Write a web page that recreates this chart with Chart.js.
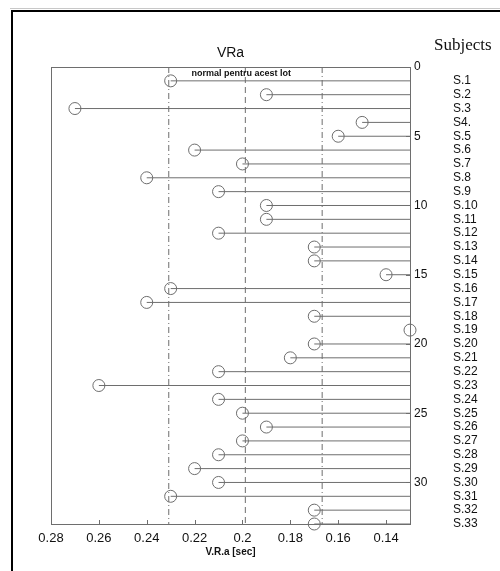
<!DOCTYPE html>
<html>
<head>
<meta charset="utf-8">
<script src="https://cdn.jsdelivr.net/npm/chart.js@4.4.1/dist/chart.umd.min.js"></script>
<style>
  html, body { margin: 0; padding: 0; background: #fff; }
</style>
</head>
<body>
<canvas id="c" width="500" height="571"></canvas>
<script>
// Subjects and their VRa values (seconds)
const subjects = ['S.1','S.2','S.3','S4.','S.5','S.6','S.7','S.8','S.9','S.10','S.11',
  'S.12','S.13','S.14','S.15','S.16','S.17','S.18','S.19','S.20','S.21','S.22',
  'S.23','S.24','S.25','S.26','S.27','S.28','S.29','S.30','S.31','S.32','S.33'];
const vra = [0.23, 0.19, 0.27, 0.15, 0.16, 0.22, 0.20, 0.24, 0.21, 0.19, 0.19,
  0.21, 0.17, 0.17, 0.14, 0.23, 0.24, 0.17, 0.13, 0.17, 0.18, 0.21,
  0.26, 0.21, 0.20, 0.19, 0.20, 0.21, 0.22, 0.21, 0.23, 0.17, 0.17];
// Normal range for this group: lower limit, mean, upper limit
const normalLimits = [0.2308, 0.1988, 0.1667];
const normalDash = [[6, 3, 1, 3], [6, 4], [6, 3, 1, 3]];
// Axis ticks
const xTicks = [0.28, 0.26, 0.24, 0.22, 0.2, 0.18, 0.16, 0.14];
const xTickLabels = ['0.28', '0.26', '0.24', '0.22', '0.2', '0.18', '0.16', '0.14'];
const yTicks = [0, 5, 10, 15, 20, 25, 30];
const X_MIN = 0.13, X_MAX = 0.28, Y_MIN = 0, Y_MAX = 33;

const GRAY = '#6e6e6e';

const datasets = [];
// open circle markers
datasets.push({
  type: 'scatter',
  data: vra.map((v, i) => ({ x: v, y: i + 1 })),
  pointStyle: 'circle',
  pointRadius: 6,
  pointHoverRadius: 6,
  pointBorderWidth: 1,
  pointBorderColor: GRAY,
  pointBackgroundColor: 'rgba(0,0,0,0)',
  showLine: false,
  clip: false
});
// stems from the baseline to each value
vra.forEach((v, i) => {
  datasets.push({
    type: 'line',
    data: [{ x: X_MIN, y: i + 1 }, { x: v, y: i + 1 }],
    borderColor: GRAY,
    borderWidth: 1,
    pointRadius: 0,
    fill: false
  });
});
// normal range lines
normalLimits.forEach((v, k) => {
  datasets.push({
    type: 'line',
    data: [{ x: v, y: Y_MIN }, { x: v, y: Y_MAX }],
    borderColor: GRAY,
    borderWidth: 1,
    borderDash: normalDash[k],
    pointRadius: 0,
    fill: false
  });
});

const decor = {
  id: 'decor',
  beforeDraw(chart) {
    const ctx = chart.ctx;
    ctx.save();
    ctx.fillStyle = '#fff';
    ctx.fillRect(0, 0, chart.width, chart.height);
    // outer frame
    ctx.strokeStyle = '#c8c8c8';
    ctx.lineWidth = 1;
    ctx.beginPath(); ctx.moveTo(10, 8.5); ctx.lineTo(500, 8.5); ctx.stroke();
    ctx.strokeStyle = '#000';
    ctx.lineWidth = 2;
    ctx.strokeRect(12, 11, 600, 700);
    ctx.restore();
  },
  afterDraw(chart) {
    const ctx = chart.ctx;
    const a = chart.chartArea;
    const xs = chart.scales.x, ys = chart.scales.y;
    ctx.save();
    // plot box
    ctx.strokeStyle = GRAY;
    ctx.lineWidth = 1;
    ctx.strokeRect(Math.round(a.left) + 0.5, Math.round(a.top) + 0.5,
      Math.round(a.right - a.left), Math.round(a.bottom - a.top));
    // inward tick marks
    ctx.beginPath();
    xTicks.forEach(t => {
      const px = Math.round(xs.getPixelForValue(t)) + 0.5;
      ctx.moveTo(px, a.bottom); ctx.lineTo(px, a.bottom - 4);
    });
    yTicks.forEach(t => {
      const py = Math.round(ys.getPixelForValue(t)) + 0.5;
      ctx.moveTo(a.right, py); ctx.lineTo(a.right - 4, py);
    });
    ctx.stroke();
    const cx = (a.left + a.right) / 2;
    ctx.fillStyle = '#111';
    ctx.textAlign = 'center';
    ctx.textBaseline = 'middle';
    ctx.font = '14px Arial, "Liberation Sans", sans-serif';
    ctx.fillText('VRa', cx, 53);
    ctx.font = 'bold 9px Arial, "Liberation Sans", sans-serif';
    ctx.fillText('normal pentru acest lot', xs.getPixelForValue(normalLimits[1]) - 4, 73.5);
    ctx.font = 'bold 10px Arial, "Liberation Sans", sans-serif';
    ctx.fillText('V.R.a [sec]', cx, 552);
    ctx.textAlign = 'left';
    ctx.font = '17px "Liberation Serif", "DejaVu Serif", serif';
    ctx.fillText('Subjects', 434, 46);
    ctx.restore();
  }
};

new Chart(document.getElementById('c'), {
  type: 'scatter',
  data: { datasets },
  plugins: [decor],
  options: {
    responsive: false,
    animation: false,
    devicePixelRatio: 1,
    layout: { padding: { top: 67, left: 51, right: 0, bottom: 0 } },
    plugins: { legend: { display: false }, tooltip: { enabled: false } },
    events: [],
    scales: {
      x: {
        type: 'linear',
        position: 'bottom',
        reverse: true,
        min: X_MIN,
        max: X_MAX,
        afterBuildTicks(s) { s.ticks = xTicks.map(v => ({ value: v })); },
        afterFit(s) { s.height = 47; },
        grid: { display: false, drawTicks: false },
        border: { display: false },
        ticks: {
          padding: 7,
          color: '#111',
          font: { family: 'Arial, "Liberation Sans", sans-serif', size: 13 },
          maxRotation: 0,
          autoSkip: false,
          callback: (v) => { const k = xTicks.indexOf(v); return k >= 0 ? xTickLabels[k] : ''; }
        }
      },
      y: {
        type: 'linear',
        position: 'right',
        reverse: true,
        min: Y_MIN,
        max: Y_MAX,
        afterBuildTicks(s) { s.ticks = yTicks.map(v => ({ value: v })); },
        afterFit(s) { s.width = 40; },
        grid: { display: false, drawTicks: false },
        border: { display: false },
        ticks: {
          padding: 4,
          color: '#111',
          font: { family: 'Arial, "Liberation Sans", sans-serif', size: 12 },
          autoSkip: false,
          callback: (v) => String(v)
        }
      },
      subj: {
        type: 'linear',
        position: 'right',
        reverse: true,
        min: Y_MIN,
        max: Y_MAX,
        afterBuildTicks(s) { s.ticks = subjects.map((_, i) => ({ value: i + 1 })); },
        afterFit(s) { s.width = 50; },
        grid: { display: false, drawTicks: false },
        border: { display: false },
        ticks: {
          padding: 3,
          color: '#111',
          font: { family: 'Arial, "Liberation Sans", sans-serif', size: 12, lineHeight: 1 },
          autoSkip: false,
          callback: (v) => subjects[v - 1] || ''
        }
      }
    }
  }
});
</script>
</body>
</html>
